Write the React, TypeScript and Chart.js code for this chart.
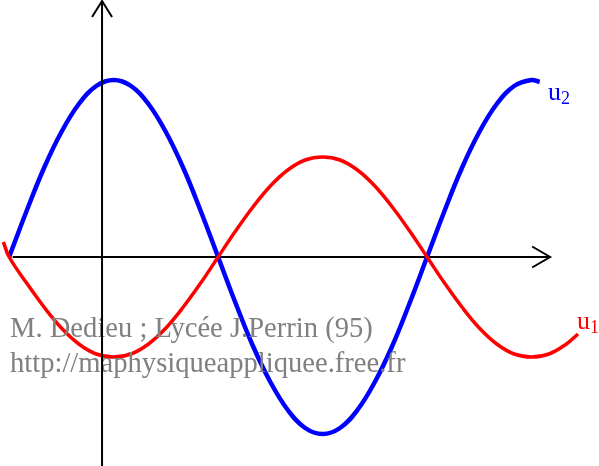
import React, { useEffect, useRef } from "react";
import { Chart, registerables } from "chart.js";

Chart.register(...registerables);

// phase angle (degrees) relative to the vertical axis, and values (arbitrary units)
const blueAngles = [-80, -65, -50, -35, -20, -5, 10, 25, 40, 55, 70, 85, 100, 115, 130, 145, 160, 175, 190, 205, 220, 235, 250, 265, 280, 295, 310, 325, 340, 355, 370, 377];
const blueValues = [0, 0.46, 0.89, 1.25, 1.53, 1.71, 1.77, 1.71, 1.53, 1.25, 0.89, 0.46, 0, -0.46, -0.89, -1.25, -1.53, -1.71, -1.77, -1.71, -1.53, -1.25, -0.89, -0.46, 0, 0.46, 0.89, 1.25, 1.53, 1.71, 1.77, 1.75];

const redAngles = [-85, -80, -65, -50, -35, -20, -5, 10, 25, 40, 55, 70, 85, 100, 115, 130, 145, 160, 175, 190, 205, 220, 235, 250, 265, 280, 295, 310, 325, 340, 355, 370, 385, 400, 410];
const redValues = [0.15, 0, -0.26, -0.5, -0.71, -0.87, -0.97, -1, -0.97, -0.87, -0.71, -0.5, -0.26, 0, 0.26, 0.5, 0.71, 0.87, 0.97, 1, 0.97, 0.87, 0.71, 0.5, 0.26, 0, -0.26, -0.5, -0.71, -0.87, -0.97, -1, -0.97, -0.87, -0.77];

const xMin = -87.9;
const xMax = 428.1;
const yMin = -2.09;
const yMax = 2.57;
const hAxisStart = -77;
const hAxisEnd = 386;

const label1 = "u";
const label1Sub = "1";
const label2 = "u";
const label2Sub = "2";
const credit1 = "M. Dedieu ; Lycée J.Perrin (95)";
const credit2 = "http://maphysiqueappliquee.free.fr";

const serif = "'Liberation Serif', 'Times New Roman', serif";

const axesPlugin = {
  id: "axesPlugin",
  beforeDatasetsDraw(chart: any) {
    const ctx = chart.ctx;
    const xs = chart.scales.x;
    const ys = chart.scales.y;
    const y0 = ys.getPixelForValue(0);
    const xa = xs.getPixelForValue(hAxisStart);
    const xb = xs.getPixelForValue(hAxisEnd);
    ctx.save();
    ctx.strokeStyle = "#000";
    ctx.lineWidth = 2;
    ctx.beginPath();
    ctx.moveTo(xa, y0);
    ctx.lineTo(xb, y0);
    ctx.moveTo(xb - 18, y0 - 10.5);
    ctx.lineTo(xb, y0);
    ctx.lineTo(xb - 18, y0 + 10.5);
    ctx.stroke();
    ctx.restore();
  },
  afterDatasetsDraw(chart: any) {
    const ctx = chart.ctx;
    const xs = chart.scales.x;
    const ys = chart.scales.y;
    ctx.save();
    // credits
    ctx.fillStyle = "#808080";
    ctx.font = `28.6px ${serif}`;
    ctx.textBaseline = "alphabetic";
    ctx.fillText(credit1, 10, 337);
    ctx.fillText(credit2, 10, 372);
    // vertical axis
    const x0 = xs.getPixelForValue(0);
    const yt = ys.getPixelForValue(yMax) + 1;
    const yb = ys.getPixelForValue(yMin);
    ctx.strokeStyle = "#000";
    ctx.lineWidth = 2;
    ctx.beginPath();
    ctx.moveTo(x0, yb);
    ctx.lineTo(x0, yt);
    ctx.moveTo(x0 - 10, yt + 16);
    ctx.lineTo(x0, yt);
    ctx.lineTo(x0 + 10, yt + 16);
    ctx.stroke();
    // labels
    ctx.fillStyle = "#0000ff";
    ctx.font = `26px ${serif}`;
    ctx.fillText(label2, 548, 100);
    ctx.font = `18px ${serif}`;
    ctx.fillText(label2Sub, 561, 104);
    ctx.fillStyle = "#ff0000";
    ctx.font = `26px ${serif}`;
    ctx.fillText(label1, 577, 329);
    ctx.font = `18px ${serif}`;
    ctx.fillText(label1Sub, 590, 333);
    ctx.restore();
  },
};

export default function App() {
  const ref = useRef<HTMLCanvasElement | null>(null);
  useEffect(() => {
    if (!ref.current) return;
    const chart = new Chart(ref.current, {
      type: "line",
      data: {
        datasets: [
          {
            label: "u1",
            data: redAngles.map((a, i) => ({ x: a, y: redValues[i] })),
            borderColor: "#ff0000",
            borderWidth: 3.5,
            pointRadius: 0,
            tension: 0.4,
            fill: false,
          },
          {
            label: "u2",
            data: blueAngles.map((a, i) => ({ x: a, y: blueValues[i] })),
            borderColor: "#0000ff",
            borderWidth: 4.5,
            pointRadius: 0,
            tension: 0.4,
            fill: false,
          },
        ],
      },
      options: {
        animation: false,
        responsive: false,
        maintainAspectRatio: false,
        layout: { padding: 0 },
        plugins: { legend: { display: false }, tooltip: { enabled: false } },
        scales: {
          x: { type: "linear", min: xMin, max: xMax, display: false },
          y: { type: "linear", min: yMin, max: yMax, display: false },
        },
      },
      plugins: [axesPlugin],
    });
    return () => chart.destroy();
  }, []);
  return (
    <div style={{ position: "fixed", left: 0, top: 0, width: 599, height: 466, background: "#fff" }}>
      <canvas ref={ref} width={599} height={466} />
    </div>
  );
}
